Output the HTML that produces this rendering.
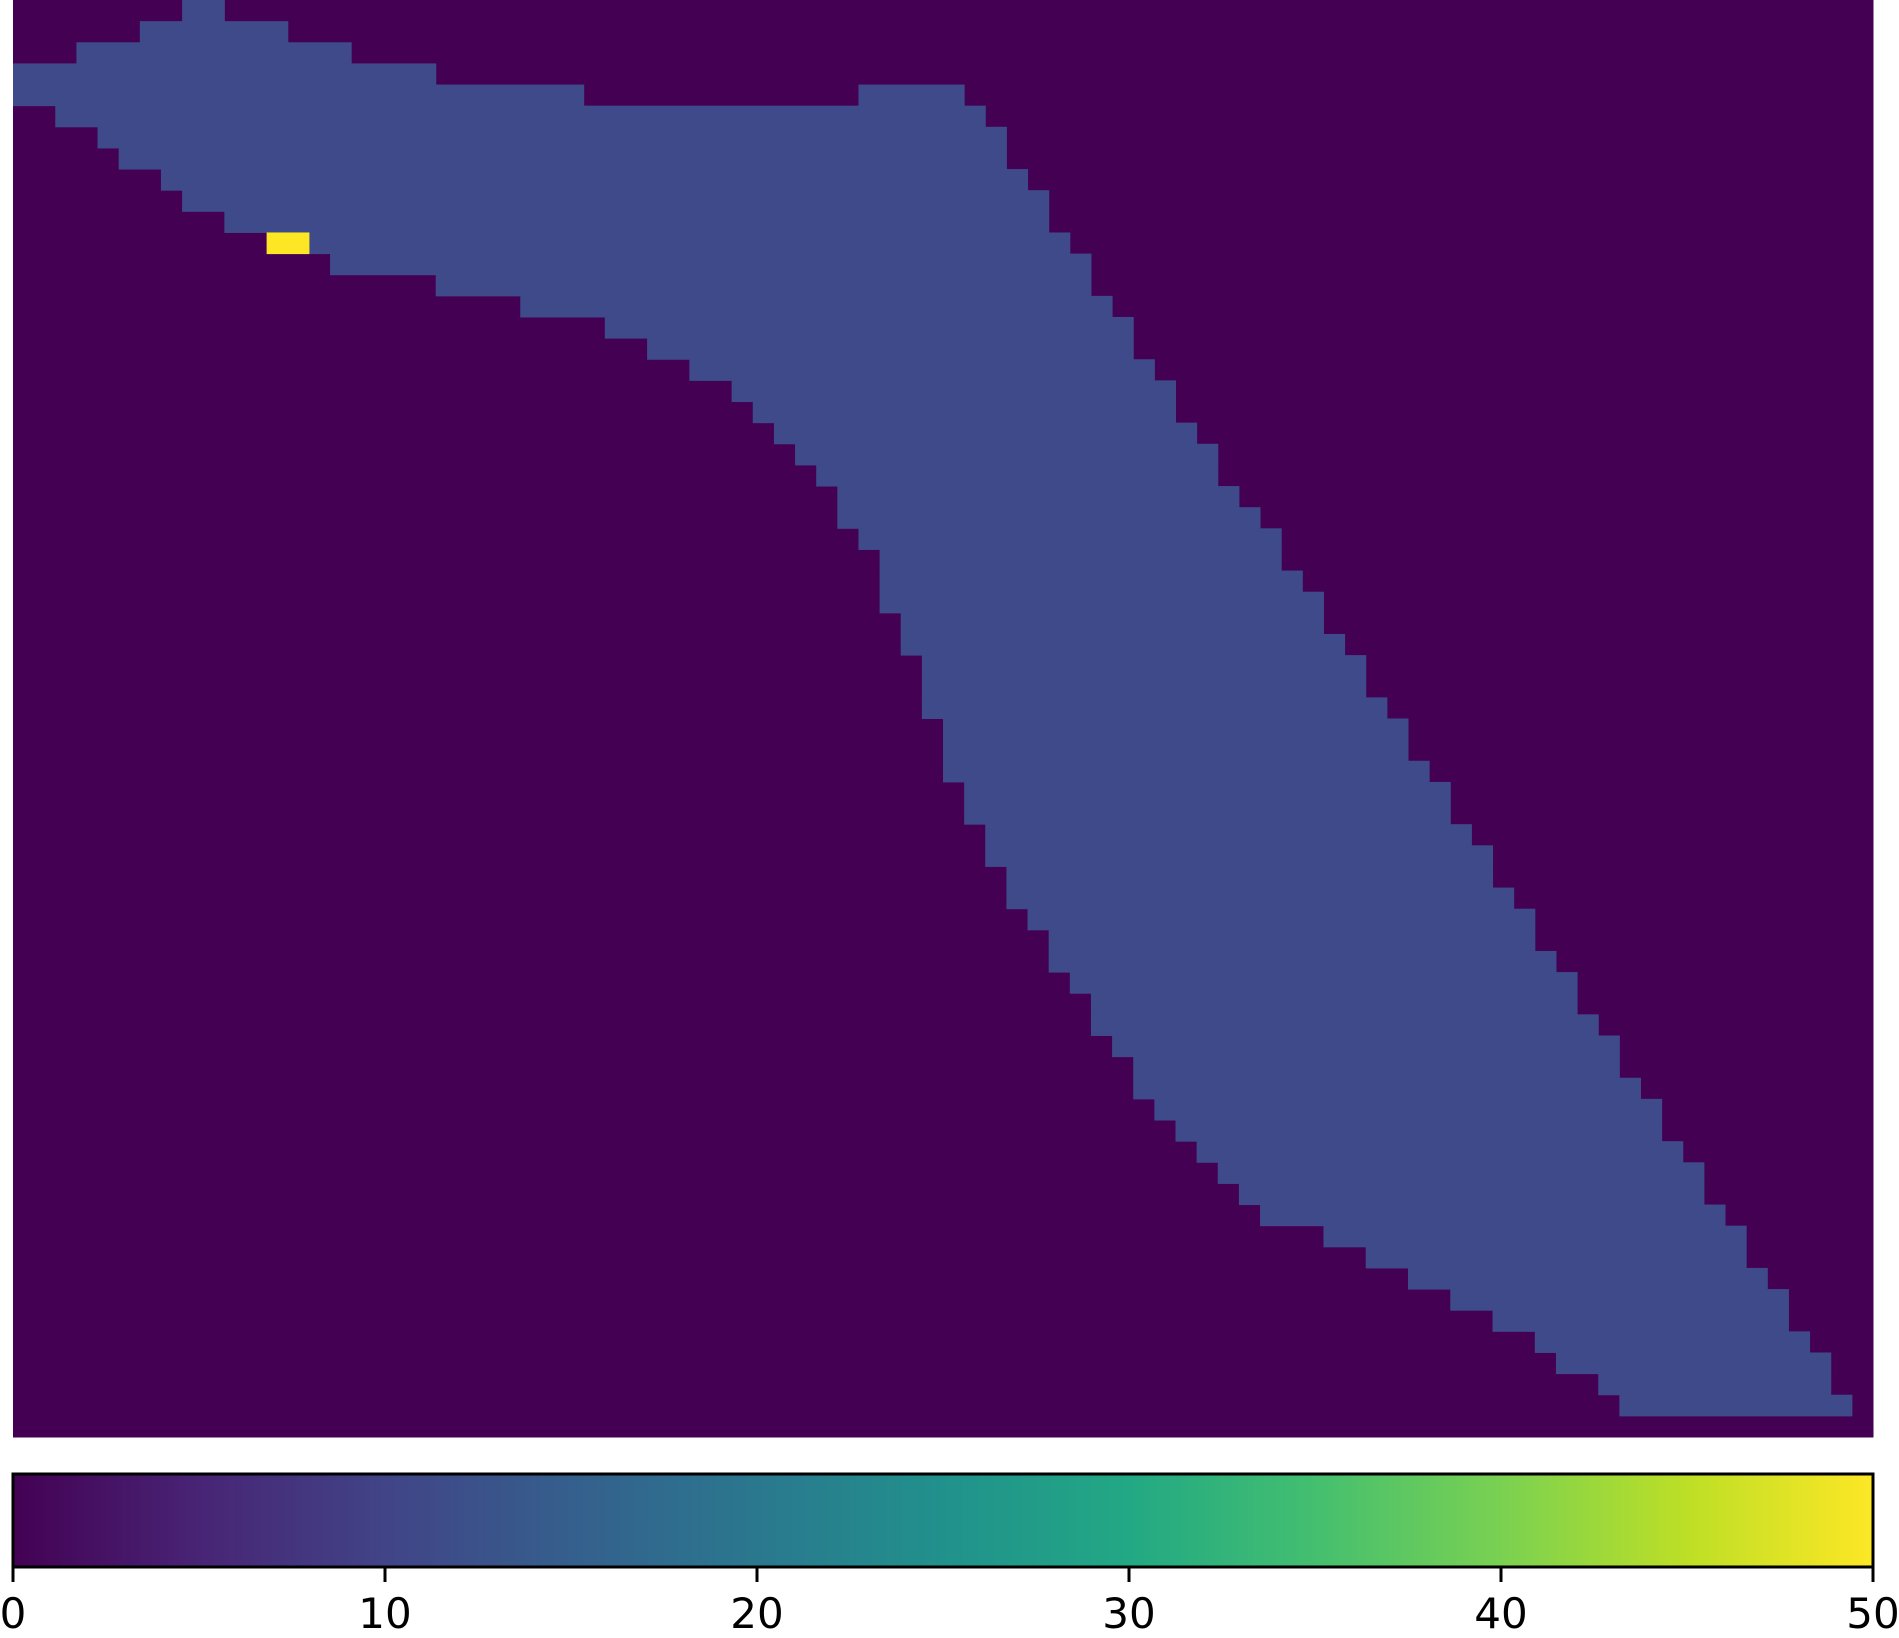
<!DOCTYPE html>
<html><head><meta charset="utf-8"><style>
html,body{margin:0;padding:0;background:#fff;}
svg{display:block;font-family:"DejaVu Sans","Liberation Sans",sans-serif;}
</style></head><body>
<svg id="chart" width="1899" height="1638" viewBox="0 0 1899 1638" xmlns="http://www.w3.org/2000/svg">
<defs>
<linearGradient id="viridis" x1="0" x2="1" y1="0" y2="0">
<stop offset="0" stop-color="#440154"/><stop offset="0.1" stop-color="#482475"/>
<stop offset="0.2" stop-color="#414487"/><stop offset="0.3" stop-color="#355f8d"/>
<stop offset="0.4" stop-color="#2a788e"/><stop offset="0.5" stop-color="#21918c"/>
<stop offset="0.6" stop-color="#22a884"/><stop offset="0.7" stop-color="#44bf70"/>
<stop offset="0.8" stop-color="#7ad151"/><stop offset="0.9" stop-color="#bddf26"/>
<stop offset="1" stop-color="#fde725"/>
</linearGradient>
</defs>
<g id="cells"></g>
<rect x="13" y="1474" width="1860" height="93" fill="url(#viridis)" stroke="#000" stroke-width="3"/>
<g id="cbticks"></g>
</svg>
<script>
const nCols = 88;
const nRows = 68;
const bandValue = 10;
const vmin = 0, vmax = 50;
// band [start, end) column per row
const bandStart = [8,6,3,0,0,2,4,5,7,8,10,12,15,20,24,28,30,32,34,35,36,37,38,39,39,40,41,41,41,42,42,43,43,43,44,44,44,45,45,46,46,47,47,48,49,49,50,51,51,52,53,53,54,55,56,57,58,59,62,64,66,68,70,72,73,75,76,null];
const bandEnd   = [10,13,16,20,27,46,47,47,48,49,49,50,51,51,52,53,53,54,55,55,56,57,57,58,59,60,60,61,62,62,63,64,64,65,66,66,67,68,68,69,70,70,71,72,72,73,74,74,75,76,76,77,78,78,79,80,80,81,82,82,83,84,84,85,86,86,87,null];
// extra band segments: [row, startCol, endCol]
const extraSegments = [[4,40,45]];
// hot cells: [row, col, value]
const hotCells = [[11,12,50],[11,13,50]];
const cbTicks = [0,10,20,30,40,50];

const X0=13, X1=1873, Y0=0, Y1=1437;
const cw=(X1-X0)/nCols, rh=(Y1-Y0)/nRows;
const xCol=c=>X0+c*cw, yRow=r=>Y0+r*rh;
const stops=[[0,'#440154'],[0.1,'#482475'],[0.2,'#3e4a89'],[0.3,'#355f8d'],[0.4,'#2a788e'],[0.5,'#21918c'],[0.6,'#22a884'],[0.7,'#44bf70'],[0.8,'#7ad151'],[0.9,'#bddf26'],[1,'#fde725']];
function color(v){const t=Math.max(0,Math.min(1,(v-vmin)/(vmax-vmin)));let best=stops[0];for(const s of stops){if(Math.abs(s[0]-t)<Math.abs(best[0]-t))best=s;}return best[1];}
const NS='http://www.w3.org/2000/svg';
const g=document.getElementById('cells');
function rect(x,y,w,h,fill,name){const r=document.createElementNS(NS,'rect');r.setAttribute('x',x);r.setAttribute('y',y);r.setAttribute('width',w+0.5);r.setAttribute('height',h+0.5);r.setAttribute('fill',fill);


g.appendChild(r);}
rect(X0,Y0,X1-X0,Y1-Y0,color(0),'heatmap-background');
for(let r=0;r<nRows;r++){ if(bandStart[r]==null)continue;
  rect(xCol(bandStart[r]),yRow(r),(bandEnd[r]-bandStart[r])*cw,rh,color(bandValue),'band-row-'+r);}
for(const s of extraSegments){rect(xCol(s[1]),yRow(s[0]),(s[2]-s[1])*cw,rh,color(bandValue),'band-segment-'+s[0]);}
for(const h of hotCells){rect(xCol(h[1]),yRow(h[0]),cw,rh,color(h[2]),'hot-cell');}
const tg=document.getElementById('cbticks');
for(const t of cbTicks){const x=X0+(t-vmin)/(vmax-vmin)*(X1-X0);
  const l=document.createElementNS(NS,'line');l.setAttribute('x1',x);l.setAttribute('x2',x);l.setAttribute('y1',1567);l.setAttribute('y2',1582);l.setAttribute('stroke','#000');l.setAttribute('stroke-width','3');
  
  
  tg.appendChild(l);
  const tx=document.createElementNS(NS,'text');tx.setAttribute('x',x);tx.setAttribute('y',1628);tx.setAttribute('text-anchor','middle');tx.setAttribute('font-size','42');tx.textContent=t;
  
  
  tg.appendChild(tx);}
</script>
</body></html>
